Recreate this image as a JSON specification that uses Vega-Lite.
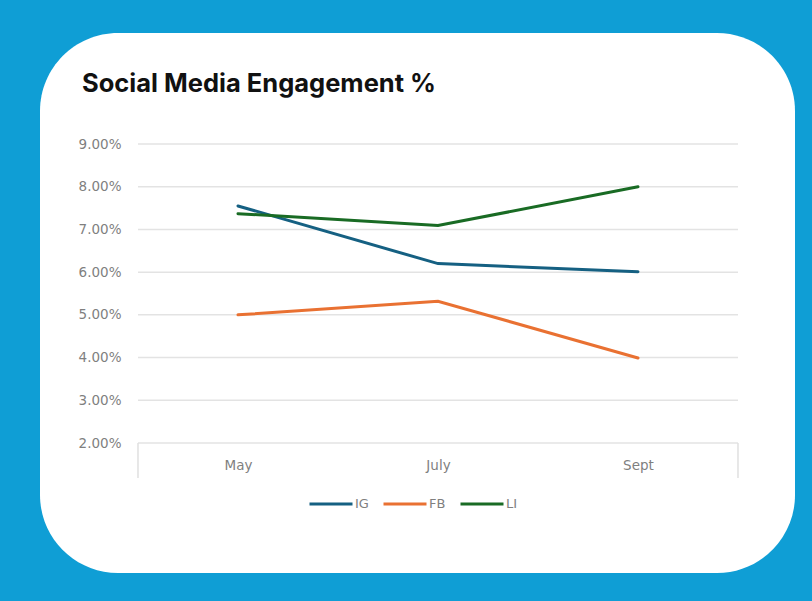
{
  "$schema": "https://vega.github.io/schema/vega-lite/v6.json",
  "autosize": {"type": "none"},
  "width": 755,
  "height": 540,
  "padding": {"left": 40, "top": 33, "right": 17, "bottom": 28},
  "background": "#0F9ED5",
  "config": {
    "view": {"fill": "white", "stroke": null, "cornerRadius": 78},
    "font": "DejaVu Sans"
  },
  "title": {
    "text": "Social Media Engagement %",
    "anchor": "start",
    "frame": "group",
    "font": "Inter",
    "fontSize": 25.5,
    "fontWeight": "bold",
    "color": "#111111",
    "baseline": "alphabetic",
    "offset": 0,
    "dx": 42,
    "dy": 84
  },
  "datasets": {
    "series": [
      {"month": "May", "series": "IG", "value": 0.0755},
      {"month": "July", "series": "IG", "value": 0.062},
      {"month": "Sept", "series": "IG", "value": 0.0601},
      {"month": "May", "series": "FB", "value": 0.05},
      {"month": "July", "series": "FB", "value": 0.0532},
      {"month": "Sept", "series": "FB", "value": 0.0399},
      {"month": "May", "series": "LI", "value": 0.0737},
      {"month": "July", "series": "LI", "value": 0.0709},
      {"month": "Sept", "series": "LI", "value": 0.08}
    ],
    "grid": [
      {"tick": 0.02}, {"tick": 0.03}, {"tick": 0.04}, {"tick": 0.05},
      {"tick": 0.06}, {"tick": 0.07}, {"tick": 0.08}, {"tick": 0.09}
    ]
  },
  "layer": [
    {
      "data": {"name": "grid"},
      "mark": {"type": "rule", "color": "#e3e3e3", "strokeWidth": 1.5, "xOffset": -100, "x2Offset": 100},
      "encoding": {
        "x": {"datum": "May", "type": "ordinal",
          "scale": {"type": "point", "domain": ["May", "July", "Sept"], "padding": 0.8875, "align": 0.5577},
          "axis": {
            "title": null,
            "orient": "bottom",
            "offset": -130,
            "domain": false,
            "ticks": false,
            "grid": false,
            "labelAngle": 0,
            "labelPadding": 15,
            "labelColor": "#7f7f7f",
            "labelFontSize": 13.5,
            "labelFont": "DejaVu Sans"
          }},
        "x2": {"datum": "Sept"},
        "y": {"field": "tick", "type": "quantitative",
          "scale": {"domain": [-0.010435, 0.11599], "zero": false, "nice": false},
          "axis": {
            "values": [0.02, 0.03, 0.04, 0.05, 0.06, 0.07, 0.08, 0.09],
            "format": ".2%",
            "title": null,
            "grid": false,
            "domain": false,
            "ticks": false,
            "offset": -98,
            "labelPadding": 17,
            "labelColor": "#7f7f7f",
            "labelFontSize": 13.5,
            "labelFont": "DejaVu Sans"
          }}
      }
    },
    {
      "data": {"name": "grid"},
      "transform": [{"filter": "datum.tick == 0.02"}],
      "mark": {"type": "rule", "color": "#e0e0e0", "strokeWidth": 1.5, "xOffset": -100},
      "encoding": {
        "x": {"datum": "May", "type": "ordinal"},
        "y": {"field": "tick", "type": "quantitative"},
        "y2": {"datum": 0.0118}
      }
    },
    {
      "data": {"name": "grid"},
      "transform": [{"filter": "datum.tick == 0.02"}],
      "mark": {"type": "rule", "color": "#e0e0e0", "strokeWidth": 1.5, "xOffset": 100},
      "encoding": {
        "x": {"datum": "Sept", "type": "ordinal"},
        "y": {"field": "tick", "type": "quantitative"},
        "y2": {"datum": 0.0118}
      }
    },
    {
      "data": {"name": "series"},
      "mark": {"type": "line", "strokeWidth": 3, "strokeCap": "round"},
      "encoding": {
        "x": {"field": "month", "type": "ordinal", "sort": ["May", "July", "Sept"]},
        "y": {"field": "value", "type": "quantitative"},
        "color": {"field": "series", "type": "nominal",
          "scale": {"domain": ["IG", "FB", "LI"], "range": ["#156082", "#E97132", "#196B24"]},
          "legend": {
            "title": null,
            "orient": "none",
            "direction": "horizontal",
            "legendX": 268,
            "legendY": 448,
            "symbolType": "stroke",
            "symbolSize": 1849,
            "symbolStrokeWidth": 3,
            "labelOffset": 1,
            "columnPadding": 8,
            "labelColor": "#7f7f7f",
            "labelFontSize": 13,
            "labelFont": "DejaVu Sans"
          }
        }
      }
    }
  ]
}
